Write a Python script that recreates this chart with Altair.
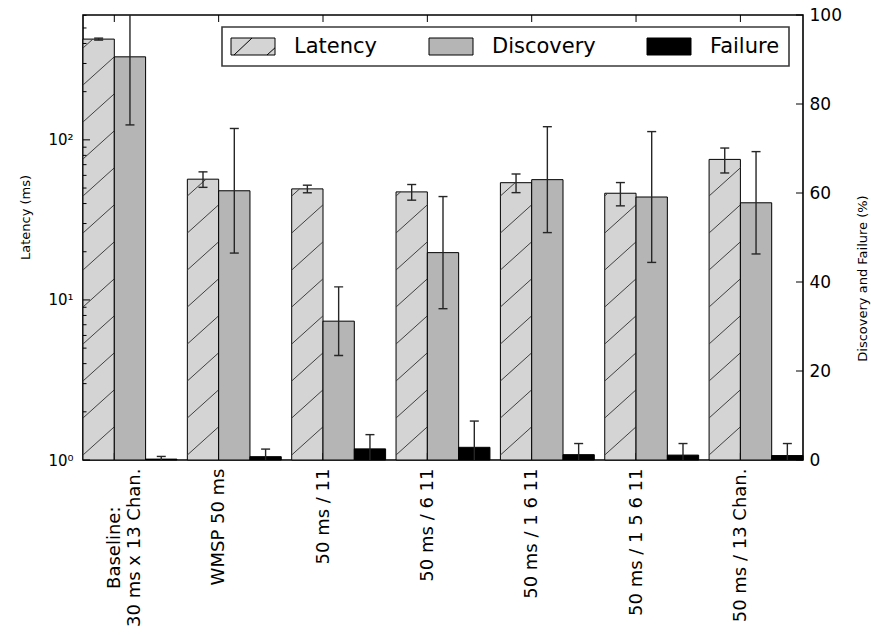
import math

import altair as alt
import pandas as pd

# ---------------------------------------------------------------- data
CONFIGS = [
    "Baseline:\n30 ms x 13 Chan.",
    "WMSP 50 ms",
    "50 ms / 11",
    "50 ms / 6 11",
    "50 ms / 1 6 11",
    "50 ms / 1 5 6 11",
    "50 ms / 13 Chan.",
]
LATENCY_MS = [426.0, 56.8, 49.4, 47.3, 54.0, 46.4, 75.5]
LATENCY_ERR = [6.0, 6.3, 2.7, 5.3, 7.2, 7.7, 13.4]
DISCOVERY_PCT = [90.6, 60.5, 31.2, 46.6, 63.0, 59.1, 57.8]
DISCOVERY_ERR = [15.3, 14.0, 7.7, 12.6, 11.9, 14.7, 11.5]
FAILURE_PCT = [0.2, 0.75, 2.5, 2.85, 1.2, 1.1, 1.0]
FAILURE_ERR = [0.6, 1.7, 3.2, 5.9, 2.5, 2.6, 2.7]

SERIES = ["Latency", "Discovery", "Failure"]
COLORS = ["#d4d4d4", "#b5b5b5", "#000000"]

# ---------------------------------------------------------------- layout
PLOT_W, PLOT_H = 720, 445
BAR_W = 0.3
X_MAX = len(CONFIGS) - 1 + 3 * BAR_W
Y_MAX = 10 ** 2.78
FONT = "DejaVu Sans"
ERR_COLOR = "#262626"
X_LABEL_SIZE = 18
X_LABEL_PAD = 8

X_TICKS = [i + BAR_W for i in range(len(CONFIGS))]
LEFT_MAJOR = [1, 10, 100]
LEFT_MINOR = [m * 10 ** e for e in range(3) for m in range(2, 10) if m * 10 ** e < Y_MAX]
RIGHT_TICKS = [0, 20, 40, 60, 80, 100]
SUPERSCRIPT = {1: "10\u2070", 10: "10\u00b9", 100: "10\u00b2"}


def js_str(s):
    return "'" + s.replace("\\", "\\\\").replace("'", "\\'") + "'"


def js_list(items):
    return "[" + ",".join(items) + "]"


# x labels: one array of lines per tick, picked by tick index
x_label_expr = (
    js_list(js_list(js_str(l) for l in c.split("\n")) for c in CONFIGS)
    + f"[round(datum.value - {BAR_W})]"
)
# multi-line labels are centred on a point half their length below the axis
multi = [i for i, c in enumerate(CONFIGS) if "\n" in c]
multi_test = f"indexof({js_list(str(i) for i in multi)}, round(datum.value - {BAR_W})) >= 0"
multi_pad = X_LABEL_PAD + max(len(l) for i in multi for l in CONFIGS[i].split("\n")) * 0.55 * X_LABEL_SIZE / 2

y_label_expr = " : ".join(
    f"datum.value == {v} ? {js_str(t)}" for v, t in SUPERSCRIPT.items()
) + " : ''"

# ---------------------------------------------------------------- tables
rows = []
for i in range(len(CONFIGS)):
    for j, (name, vals, errs) in enumerate(
        zip(SERIES, [LATENCY_MS, DISCOVERY_PCT, FAILURE_PCT], [LATENCY_ERR, DISCOVERY_ERR, FAILURE_ERR])
    ):
        x0 = i + j * BAR_W
        rows.append(
            dict(series=name, x0=x0, x1=x0 + BAR_W, xc=x0 + BAR_W / 2,
                 value=vals[i], lo=vals[i] - errs[i], hi=vals[i] + errs[i])
        )
bars = pd.DataFrame(rows)
lat = bars[bars.series == "Latency"]
disc = bars[bars.series == "Discovery"]
fail = bars[bars.series == "Failure"]
pct = bars[bars.series != "Latency"]

# diagonal hatch segments for the latency bars, straight in pixel space
px_per_dec = PLOT_H / math.log10(Y_MAX)
px_per_x = PLOT_W / X_MAX
HATCH_GAP, HATCH_SLOPE, HATCH_START = 37.0, 0.9, 5.0
rise = HATCH_SLOPE * BAR_W * px_per_x / px_per_dec
gap = HATCH_GAP / px_per_dec
start = HATCH_START / px_per_dec
segs = []
for i, v in enumerate(LATENCY_MS):
    top = math.log10(v)
    k = -1
    while start + k * gap < top:
        a = start + k * gap
        b = a + rise
        t0 = 0.0 if a >= 0 else -a / (b - a)
        t1 = 1.0 if b <= top else (top - a) / (b - a)
        if b > 0 and t1 > t0:
            segs.append(dict(x=i + t0 * BAR_W, x2=i + t1 * BAR_W,
                             y=10 ** (a + t0 * (b - a)), y2=10 ** (a + t1 * (b - a))))
        k += 1
hatch = pd.DataFrame(segs)

# ---------------------------------------------------------------- scales / axes
x_scale = alt.Scale(domain=[0, X_MAX], nice=False, zero=False)
y_left = alt.Scale(type="log", domain=[1, Y_MAX], nice=False)
y_right = alt.Scale(domain=[0, 100], nice=False, zero=True)

x_axis = alt.Axis(
    values=X_TICKS, labelExpr=x_label_expr, labelAngle=270,
    labelAlign={"condition": {"test": multi_test, "value": "center"}, "value": "right"},
    labelPadding={"condition": {"test": multi_test, "value": multi_pad}, "value": X_LABEL_PAD},
    labelBaseline="middle", labelFontSize=X_LABEL_SIZE, labelLineHeight=20,
    labelOverlap=False, labelFlush=False, ticks=False, domain=False, grid=False,
    title=None, labelColor="black", labelFont=FONT,
)
left_axis = alt.Axis(
    values=LEFT_MAJOR, labelExpr=y_label_expr, labelFontSize=15, labelPadding=10,
    labelFlush=False, ticks=False, domain=False, grid=False, labelColor="black",
    labelFont=FONT, title="Latency (ms)", titleFontSize=13, titleFontWeight="normal",
    titleFont=FONT, titleColor="black", titleAngle=270, titleAlign="center",
    titleBaseline="middle", titleX=-58, titleY=202,
)
right_axis = alt.Axis(
    orient="right", values=RIGHT_TICKS, labelFontSize=17, labelPadding=6,
    labelFlush=False, ticks=False, domain=False, grid=False, labelColor="black",
    labelFont=FONT, title="Discovery and Failure (%)", titleFontSize=13,
    titleFontWeight="normal", titleFont=FONT, titleColor="black", titleAngle=270,
    titleAlign="center", titleBaseline="middle", titleX=59, titleY=263,
)

# ---------------------------------------------------------------- left (log) group
lat_bars = alt.Chart(lat).mark_bar(fill=COLORS[0], stroke="black", strokeWidth=1).encode(
    x=alt.X("x0:Q", scale=x_scale, axis=x_axis),
    x2="x1:Q",
    y=alt.Y("value:Q", scale=y_left, axis=left_axis),
    y2=alt.datum(1),
)
hatch_lines = alt.Chart(hatch).mark_rule(color="#404040", strokeWidth=1).encode(
    x="x:Q", x2="x2:Q", y="y:Q", y2="y2:Q"
)
lat_err = alt.Chart(lat).mark_rule(color=ERR_COLOR, strokeWidth=1.4, clip=True).encode(
    x="xc:Q", y="lo:Q", y2="hi:Q"
)
lat_cap_lo = alt.Chart(lat).mark_tick(orient="horizontal", size=9, thickness=1.4,
                                      color=ERR_COLOR, opacity=1, clip=True).encode(
    x="xc:Q", y="lo:Q"
)
lat_cap_hi = alt.Chart(lat).mark_tick(orient="horizontal", size=9, thickness=1.4,
                                      color=ERR_COLOR, opacity=1, clip=True).encode(
    x="xc:Q", y="hi:Q"
)
major_ticks = alt.Chart(pd.DataFrame({"v": LEFT_MAJOR})).mark_rule(color="black", strokeWidth=1).encode(
    y="v:Q", x=alt.value(0), x2=alt.value(7)
)
minor_ticks = alt.Chart(pd.DataFrame({"v": LEFT_MINOR})).mark_rule(color="black", strokeWidth=1).encode(
    y="v:Q", x=alt.value(0), x2=alt.value(3.5)
)
xtick_df = pd.DataFrame({"v": X_TICKS})
top_ticks = alt.Chart(xtick_df).mark_rule(color="black", strokeWidth=1).encode(
    x="v:Q", y=alt.value(0), y2=alt.value(7)
)
bottom_ticks = alt.Chart(xtick_df).mark_rule(color="black", strokeWidth=1).encode(
    x="v:Q", y=alt.value(PLOT_H - 7), y2=alt.value(PLOT_H)
)
left = alt.layer(lat_bars, hatch_lines, lat_err, lat_cap_lo, lat_cap_hi,
                 major_ticks, minor_ticks, top_ticks, bottom_ticks)

# ---------------------------------------------------------------- right (%) group
disc_bars = alt.Chart(disc).mark_bar(fill=COLORS[1], stroke="black", strokeWidth=1).encode(
    x="x0:Q", x2="x1:Q",
    y=alt.Y("value:Q", scale=y_right, axis=right_axis), y2=alt.datum(0),
)
fail_bars = alt.Chart(fail).mark_bar(fill=COLORS[2], stroke="black", strokeWidth=1).encode(
    x="x0:Q", x2="x1:Q", y="value:Q", y2=alt.datum(0),
)
pct_err = alt.Chart(pct).mark_rule(color=ERR_COLOR, strokeWidth=1.4, clip=True).encode(
    x="xc:Q", y="lo:Q", y2="hi:Q"
)
pct_cap_lo = alt.Chart(pct).mark_tick(orient="horizontal", size=9, thickness=1.4,
                                      color=ERR_COLOR, opacity=1, clip=True).encode(
    x="xc:Q", y="lo:Q"
)
pct_cap_hi = alt.Chart(pct).mark_tick(orient="horizontal", size=9, thickness=1.4,
                                      color=ERR_COLOR, opacity=1, clip=True).encode(
    x="xc:Q", y="hi:Q"
)
right_ticks = alt.Chart(pd.DataFrame({"v": RIGHT_TICKS})).mark_rule(color="black", strokeWidth=1).encode(
    y="v:Q", x=alt.value(PLOT_W - 7), x2=alt.value(PLOT_W)
)

# legend swatches: 44x17 rectangles (first one with hatch strokes)
RECT = "M-1.05,-0.85H3.35V0.85H-1.05Z"
HATCHED = RECT + "M-0.75,0.85L1.05,-0.85M2.55,0.85L3.35,0.13"
legend = alt.Legend(
    title=None, orient="none", legendX=139, legendY=12, direction="horizontal", columns=3,
    symbolSize=400, symbolStrokeColor="black", symbolStrokeWidth=1, symbolOpacity=1,
    labelFont=FONT, labelFontSize=21, labelColor="black", labelOffset=42,
    columnPadding=49, padding=9, fillColor="white", strokeColor="#3a3a3a",
)
legend_keys = alt.Chart(pd.DataFrame({"series": SERIES})).mark_point(
    filled=False, opacity=0, strokeWidth=1
).encode(
    x=alt.value(0), y=alt.value(0),
    fill=alt.Fill("series:N", scale=alt.Scale(domain=SERIES, range=COLORS), legend=legend),
    stroke=alt.Stroke("series:N", scale=alt.Scale(domain=SERIES, range=["#000000"] * 3),
                      legend=legend),
    shape=alt.Shape("series:N", scale=alt.Scale(domain=SERIES, range=[HATCHED, RECT, RECT]),
                    legend=legend),
)
right = alt.layer(disc_bars, fail_bars, pct_err, pct_cap_lo, pct_cap_hi, right_ticks, legend_keys)

chart = (
    alt.layer(left, right)
    .resolve_scale(y="independent")
    .properties(
        width=PLOT_W, height=PLOT_H,
        autosize=alt.AutoSizeParams(type="none"),
        padding={"left": 83, "top": 15, "right": 871 - 83 - PLOT_W, "bottom": 635 - 15 - PLOT_H},
        background="white",
    )
    .configure(font=FONT)
    .configure_view(stroke="black", strokeWidth=1.6)
    .configure_legend(strokeWidth=1.6)
)

chart.save("out.html", embed_options={"renderer": "svg", "actions": False})
